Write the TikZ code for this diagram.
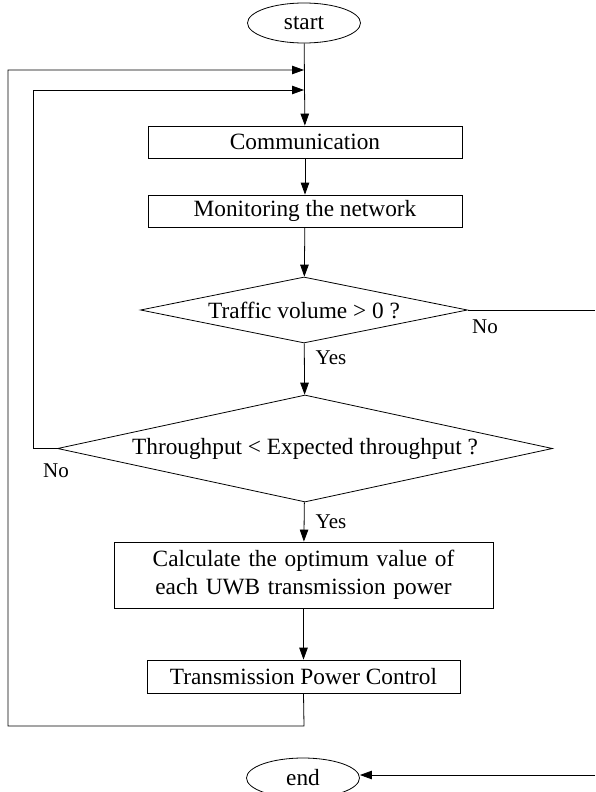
\documentclass[tikz,border=0pt]{standalone}
\usepackage{fontspec}
\setmainfont{Liberation Serif}
\usetikzlibrary{shapes.geometric,arrows.meta}
\begin{document}
\begin{tikzpicture}[x=1pt,y=-1pt,
  line width=0.8pt,
  every node/.style={font=\fontsize{23.3}{27}\selectfont},
  term/.style={draw,ellipse,minimum width=113pt,minimum height=40pt,inner sep=0pt},
  proc/.style={draw,rectangle,inner sep=0pt,align=center},
  decide/.style={draw,diamond,inner sep=0pt},
  lbl/.style={font=\fontsize{21}{24}\selectfont,inner sep=0pt},
  arr/.style={-{Triangle[length=12pt,width=8.5pt]}}
]
\useasboundingbox (0,0) rectangle (595,792);
\node[term] (start) at (304,23) {start};
\node[proc,minimum width=314pt,minimum height=32pt] (comm) at (305,142) {Communication};
\node[proc,minimum width=314pt,minimum height=32pt] (mon) at (305,211) {Monitoring the network};
\node[decide,minimum width=327pt,minimum height=66pt,aspect=4.95] (d1) at (304,310) {Traffic volume > 0 ?};
\node[decide,minimum width=495pt,minimum height=107pt,aspect=4.63] (d2) at (305,448.5) {Throughput < Expected throughput ?};
\node[proc,minimum width=379pt,minimum height=66pt,text width=370pt,
  font=\fontsize{23.3}{27.5}\selectfont] (calc) at (303.5,575) {Calculate the optimum value of\\each UWB transmission power};
\node[proc,minimum width=313pt,minimum height=33pt] (tpc) at (303.5,676.5) {Transmission Power Control};
\node[term] (end) at (303,778) {end};

\coordinate (j1) at (304,70);
\coordinate (j2) at (304,90);
\coordinate (noR) at (595,310);
\coordinate (inR) at (595,775);

\draw[arr] (start) -- (comm);
\draw[arr] (comm) -- (mon);
\draw[arr] (mon) -- (d1);
\draw[arr] (d1) -- (d2);
\draw[arr] (d2) -- (calc);
\draw[arr] (calc) -- (tpc);
\draw[arr] (d2.west) -- (33,448.5) -- (33,90) -- (j2);
\draw[arr] (tpc.south) -- (304,726) -- (8,726) -- (8,70) -- (j1);
\draw (d1.east) -- (noR);
\draw[arr] (inR) -- (end.east |- inR);

\node[lbl] at (331,358) {Yes};
\node[lbl] at (485,327) {No};
\node[lbl] at (331,522) {Yes};
\node[lbl] at (56,471) {No};
\end{tikzpicture}
\end{document}
